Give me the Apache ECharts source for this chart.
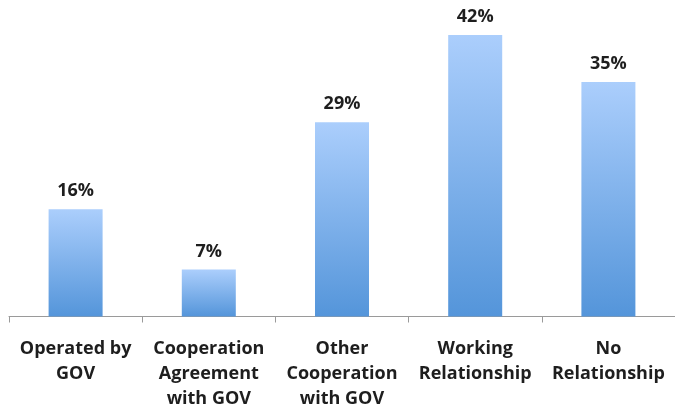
<!DOCTYPE html>
<html>
<head>
<meta charset="utf-8">
<script src="https://cdn.jsdelivr.net/npm/echarts@6/dist/echarts.min.js"></script>
<style>
  html, body { margin: 0; padding: 0; background: #ffffff; }
  #chart { width: 675px; height: 412px; }
</style>
</head>
<body>
<div id="chart"></div>
<script>
// Relationship with government: share of respondents per category
const categories = [
  'Operated by\nGOV',
  'Cooperation\nAgreement\nwith GOV',
  'Other\nCooperation\nwith GOV',
  'Working\nRelationship',
  'No\nRelationship'
];
const shares = [16, 7, 29, 42, 35];

const FONT = '"Open Sans", Lato, "Liberation Sans", sans-serif';
const TEXT = '#1e1e1e';

const chart = echarts.init(document.getElementById('chart'), null, { renderer: 'canvas' });

chart.setOption({
  animation: false,
  backgroundColor: '#ffffff',
  grid: { left: 9, top: 15, width: 671, height: 301.5, containLabel: false },
  xAxis: {
    type: 'category',
    data: categories,
    axisLine: { show: true, lineStyle: { color: '#9a9a9a', width: 1 } },
    axisTick: { show: true, alignWithLabel: false, length: 6, lineStyle: { color: '#9a9a9a' } },
    axisLabel: {
      interval: 0,
      margin: 20,
      color: TEXT,
      fontFamily: FONT,
      fontWeight: 'bold',
      fontSize: 18,
      lineHeight: 25,
      align: 'center'
    }
  },
  yAxis: {
    type: 'value',
    min: 0,
    max: 45,
    show: false,
    splitLine: { show: false }
  },
  series: [{
    type: 'bar',
    data: shares,
    barWidth: 54,
    itemStyle: {
      color: new echarts.graphic.LinearGradient(0, 0, 0, 1, [
        { offset: 0, color: '#abcefc' },
        { offset: 1, color: '#5495da' }
      ])
    },
    label: {
      show: true,
      position: 'top',
      distance: 9,
      formatter: '{c}%',
      color: TEXT,
      fontFamily: FONT,
      fontWeight: 'bold',
      fontSize: 18
    }
  }]
});
</script>
</body>
</html>
